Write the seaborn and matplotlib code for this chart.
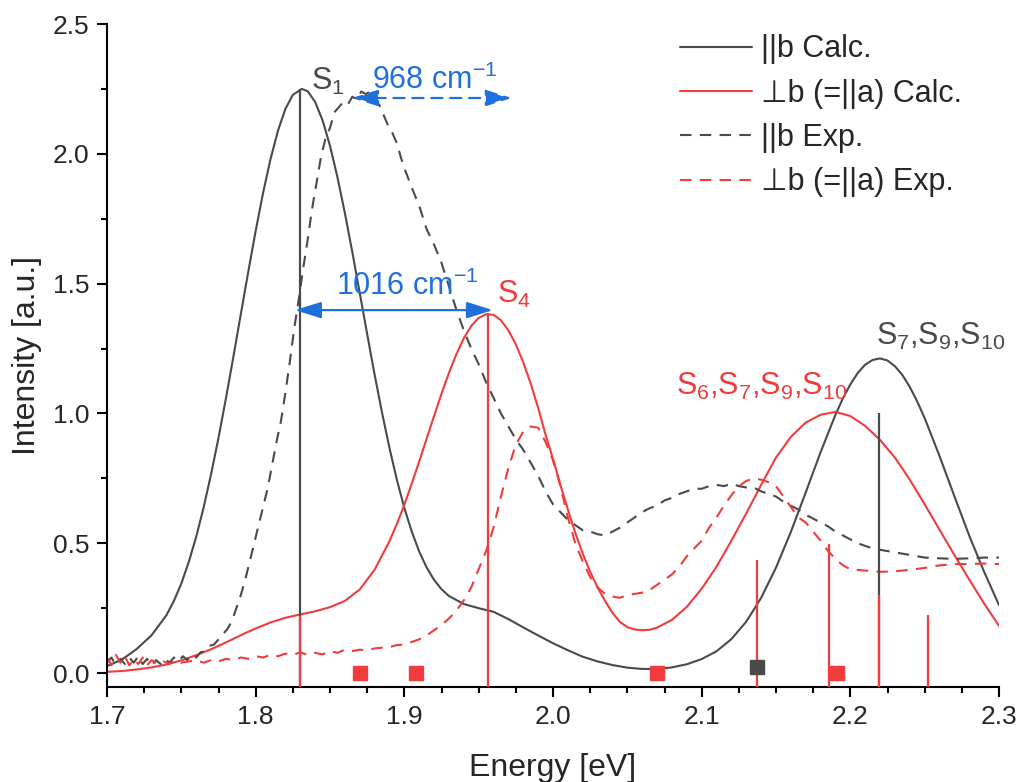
import numpy as np
import pandas as pd
import matplotlib
matplotlib.use("Agg")
import matplotlib.pyplot as plt
from matplotlib.ticker import MultipleLocator, FormatStrFormatter
import seaborn as sns

# ---- calculated spectra (||b and perpendicular-b) ----
b_calc_E = [1.700, 1.710, 1.720, 1.730, 1.740, 1.745, 1.750, 1.755, 1.760, 1.765,
            1.770, 1.775, 1.780, 1.785, 1.790, 1.795, 1.800, 1.805, 1.810, 1.815,
            1.820, 1.825, 1.831, 1.835, 1.840, 1.845, 1.850, 1.855, 1.860, 1.865,
            1.870, 1.875, 1.880, 1.885, 1.890, 1.895, 1.900, 1.905, 1.910, 1.915,
            1.920, 1.925, 1.930, 1.940, 1.950, 1.960, 1.970, 1.980, 1.990, 2.000,
            2.010, 2.020, 2.030, 2.040, 2.050, 2.060, 2.070, 2.080, 2.090, 2.100,
            2.110, 2.120, 2.130, 2.140, 2.150, 2.160, 2.170, 2.180, 2.190, 2.195,
            2.200, 2.205, 2.210, 2.215, 2.220, 2.225, 2.230, 2.235, 2.240, 2.245,
            2.250, 2.260, 2.270, 2.280, 2.290, 2.300]
b_calc_I = [0.027, 0.052, 0.093, 0.146, 0.223, 0.278, 0.345, 0.428, 0.525, 0.638,
            0.766, 0.906, 1.058, 1.218, 1.382, 1.545, 1.703, 1.850, 1.980, 2.089,
            2.173, 2.227, 2.250, 2.241, 2.200, 2.129, 2.031, 1.910, 1.772, 1.622,
            1.464, 1.306, 1.150, 1.003, 0.867, 0.744, 0.636, 0.545, 0.468, 0.407,
            0.359, 0.323, 0.297, 0.266, 0.250, 0.236, 0.208, 0.176, 0.145, 0.115,
            0.088, 0.063, 0.045, 0.031, 0.021, 0.016, 0.016, 0.022, 0.034, 0.054,
            0.084, 0.131, 0.198, 0.290, 0.406, 0.544, 0.696, 0.851, 0.995, 1.058,
            1.112, 1.156, 1.188, 1.206, 1.212, 1.204, 1.182, 1.148, 1.102, 1.046,
            0.982, 0.836, 0.681, 0.529, 0.390, 0.262]

a_calc_E = [1.700, 1.710, 1.720, 1.730, 1.740, 1.750, 1.760, 1.770, 1.780, 1.790,
            1.800, 1.810, 1.820, 1.830, 1.840, 1.850, 1.860, 1.870, 1.880, 1.890,
            1.895, 1.900, 1.905, 1.910, 1.915, 1.920, 1.925, 1.930, 1.935, 1.940,
            1.945, 1.950, 1.955, 1.960, 1.965, 1.970, 1.975, 1.980, 1.985, 1.990,
            1.995, 2.000, 2.005, 2.010, 2.015, 2.020, 2.025, 2.030, 2.035, 2.040,
            2.045, 2.050, 2.055, 2.060, 2.065, 2.070, 2.080, 2.090, 2.100, 2.110,
            2.120, 2.130, 2.140, 2.150, 2.160, 2.170, 2.180, 2.190, 2.200, 2.210,
            2.220, 2.230, 2.240, 2.250, 2.260, 2.270, 2.280, 2.290, 2.300]
a_calc_I = [0.005, 0.008, 0.014, 0.022, 0.033, 0.049, 0.069, 0.092, 0.118, 0.146,
            0.172, 0.195, 0.213, 0.226, 0.238, 0.254, 0.278, 0.322, 0.398, 0.508,
            0.575, 0.648, 0.730, 0.815, 0.903, 0.990, 1.076, 1.156, 1.228, 1.290,
            1.337, 1.368, 1.382, 1.380, 1.359, 1.320, 1.266, 1.197, 1.115, 1.022,
            0.918, 0.825, 0.725, 0.630, 0.540, 0.460, 0.390, 0.330, 0.278, 0.232,
            0.197, 0.177, 0.168, 0.165, 0.167, 0.175, 0.205, 0.255, 0.325, 0.410,
            0.510, 0.615, 0.725, 0.830, 0.910, 0.965, 0.995, 1.006, 0.990, 0.952,
            0.898, 0.830, 0.745, 0.650, 0.552, 0.455, 0.360, 0.268, 0.182]

# ---- measured spectra ----
b_exp_E = [1.700, 1.703, 1.706, 1.709, 1.712, 1.715, 1.718, 1.721, 1.724, 1.727,
           1.730, 1.733, 1.736, 1.739, 1.742, 1.745, 1.748, 1.751, 1.754, 1.757,
           1.760, 1.763, 1.766, 1.769, 1.772, 1.775, 1.778, 1.781, 1.784, 1.787,
           1.790, 1.793, 1.796, 1.799, 1.802, 1.805, 1.808, 1.811, 1.814, 1.817,
           1.820, 1.823, 1.826, 1.829, 1.832, 1.835, 1.838, 1.841, 1.844, 1.847,
           1.850, 1.853, 1.856, 1.859, 1.862, 1.865, 1.868, 1.871, 1.874, 1.877,
           1.880, 1.883, 1.886, 1.889, 1.892, 1.895, 1.898, 1.901, 1.905, 1.910,
           1.915, 1.920, 1.925, 1.930, 1.935, 1.940, 1.945, 1.950, 1.955, 1.960,
           1.965, 1.970, 1.975, 1.980, 1.985, 1.990, 1.995, 2.000, 2.005, 2.010,
           2.015, 2.020, 2.025, 2.030, 2.035, 2.040, 2.045, 2.050, 2.055, 2.060,
           2.065, 2.070, 2.075, 2.080, 2.085, 2.090, 2.095, 2.100, 2.105, 2.110,
           2.115, 2.120, 2.125, 2.130, 2.135, 2.140, 2.145, 2.150, 2.155, 2.160,
           2.165, 2.170, 2.175, 2.180, 2.185, 2.190, 2.195, 2.200, 2.205, 2.210,
           2.215, 2.220, 2.230, 2.240, 2.250, 2.260, 2.270, 2.280, 2.290, 2.300]
b_exp_I = [0.04, 0.06, 0.03, 0.055, 0.035, 0.06, 0.04, 0.065, 0.035, 0.055,
           0.03, 0.05, 0.035, 0.055, 0.04, 0.06, 0.045, 0.065, 0.05, 0.07,
           0.06, 0.08, 0.085, 0.105, 0.11, 0.13, 0.15, 0.17, 0.20, 0.25,
           0.30, 0.36, 0.43, 0.50, 0.57, 0.64, 0.71, 0.80, 0.89, 0.97,
           1.08, 1.20, 1.33, 1.44, 1.56, 1.67, 1.79, 1.89, 1.99, 2.06,
           2.10, 2.16, 2.18, 2.20, 2.19, 2.22, 2.21, 2.24, 2.23, 2.24,
           2.21, 2.19, 2.15, 2.11, 2.08, 2.04, 1.98, 1.93, 1.87, 1.80,
           1.71, 1.65, 1.58, 1.49, 1.40, 1.32, 1.25, 1.19, 1.12, 1.06,
           1.00, 0.95, 0.90, 0.86, 0.81, 0.76, 0.70, 0.65, 0.62, 0.59,
           0.57, 0.55, 0.545, 0.535, 0.53, 0.545, 0.56, 0.58, 0.60, 0.62,
           0.635, 0.645, 0.665, 0.675, 0.69, 0.70, 0.71, 0.71, 0.72, 0.725,
           0.72, 0.73, 0.72, 0.715, 0.715, 0.70, 0.69, 0.68, 0.66, 0.645,
           0.63, 0.61, 0.595, 0.58, 0.565, 0.545, 0.53, 0.515, 0.50, 0.49,
           0.48, 0.475, 0.465, 0.455, 0.445, 0.442, 0.44, 0.442, 0.445, 0.445]

a_exp_E = [1.700, 1.703, 1.706, 1.709, 1.712, 1.715, 1.718, 1.721, 1.724, 1.727,
           1.730, 1.734, 1.738, 1.742, 1.746, 1.750, 1.755, 1.760, 1.765, 1.770,
           1.775, 1.780, 1.785, 1.790, 1.795, 1.800, 1.805, 1.810, 1.815, 1.820,
           1.825, 1.830, 1.835, 1.840, 1.845, 1.850, 1.855, 1.860, 1.865, 1.870,
           1.875, 1.880, 1.885, 1.890, 1.895, 1.900, 1.905, 1.910, 1.915, 1.920,
           1.925, 1.930, 1.935, 1.940, 1.945, 1.950, 1.955, 1.960, 1.965, 1.970,
           1.975, 1.980, 1.985, 1.990, 1.995, 2.000, 2.005, 2.010, 2.015, 2.020,
           2.025, 2.030, 2.035, 2.040, 2.045, 2.050, 2.055, 2.060, 2.065, 2.070,
           2.075, 2.080, 2.085, 2.090, 2.095, 2.100, 2.105, 2.110, 2.115, 2.120,
           2.125, 2.130, 2.135, 2.140, 2.145, 2.150, 2.155, 2.160, 2.165, 2.170,
           2.175, 2.180, 2.185, 2.190, 2.195, 2.200, 2.210, 2.220, 2.230, 2.240,
           2.250, 2.260, 2.270, 2.280, 2.290, 2.300]
a_exp_I = [0.06, 0.03, 0.07, 0.04, 0.065, 0.03, 0.055, 0.035, 0.06, 0.03,
           0.05, 0.035, 0.045, 0.035, 0.05, 0.04, 0.045, 0.05, 0.04, 0.05,
           0.045, 0.055, 0.05, 0.06, 0.055, 0.065, 0.06, 0.07, 0.065, 0.075,
           0.07, 0.08, 0.07, 0.078, 0.072, 0.085, 0.078, 0.09, 0.085, 0.09,
           0.088, 0.095, 0.098, 0.10, 0.108, 0.11, 0.12, 0.13, 0.145, 0.165,
           0.185, 0.21, 0.24, 0.28, 0.33, 0.40, 0.47, 0.56, 0.68, 0.79,
           0.88, 0.93, 0.95, 0.945, 0.89, 0.82, 0.72, 0.60, 0.50, 0.43,
           0.37, 0.33, 0.305, 0.295, 0.29, 0.30, 0.305, 0.31, 0.32, 0.34,
           0.36, 0.38, 0.41, 0.45, 0.48, 0.51, 0.56, 0.60, 0.645, 0.685,
           0.72, 0.74, 0.75, 0.745, 0.735, 0.72, 0.68, 0.64, 0.60, 0.58,
           0.545, 0.51, 0.47, 0.44, 0.415, 0.40, 0.395, 0.39, 0.392, 0.398,
           0.405, 0.415, 0.42, 0.42, 0.422, 0.42]

# ---- transition sticks ----
b_stick_E = [1.830, 2.219]
b_stick_I = [2.25, 1.00]
a_stick_E = [1.830, 1.956, 2.137, 2.1855, 2.219, 2.252]
a_stick_I = [0.22, 1.385, 0.435, 0.497, 0.30, 0.223]

# ---- square markers ----
a_sq_E = [1.870, 1.908, 2.070, 2.191]
a_sq_I = [0.0, 0.0, 0.0, 0.0]
b_sq_E = [2.137]
b_sq_I = [0.025]

legend_labels = ["||b Calc.", "\u22a5b (=||a) Calc.", "||b Exp.", "\u22a5b (=||a) Exp."]

GREY = "#4a4a4a"
RED = "#f03c3c"
BLUE = "#1f6fdc"

sns.set_style("ticks")
plt.rcParams["font.family"] = ["Liberation Sans", "DejaVu Sans"]
plt.rcParams["mathtext.fontset"] = "custom"
plt.rcParams["mathtext.rm"] = "Liberation Sans"
plt.rcParams["mathtext.it"] = "Liberation Sans:italic"

fig = plt.figure(figsize=(10.2, 7.82), dpi=100)
ax = fig.add_axes([107 / 1020, 1 - 686.6 / 782, 892 / 1020, (686.6 - 24) / 782])

YMIN = -0.052
lw = 1.5
dash = (0, (5.5, 4))

sns.lineplot(x=b_calc_E, y=b_calc_I, ax=ax, color=GREY, lw=lw, label=legend_labels[0], sort=False)
sns.lineplot(x=a_calc_E, y=a_calc_I, ax=ax, color=RED, lw=lw, label=legend_labels[1], sort=False)
sns.lineplot(x=b_exp_E, y=b_exp_I, ax=ax, color=GREY, lw=lw, linestyle=dash, label=legend_labels[2], sort=False)
sns.lineplot(x=a_exp_E, y=a_exp_I, ax=ax, color=RED, lw=lw, linestyle=dash, label=legend_labels[3], sort=False)

ax.vlines(b_stick_E, YMIN, b_stick_I, color=GREY, lw=1.6, zorder=3)
ax.vlines(a_stick_E, YMIN, a_stick_I, color=RED, lw=1.6, zorder=4)

ax.plot(a_sq_E, a_sq_I, ls="none", marker="s", ms=9.5, color=RED, zorder=5)
ax.plot(b_sq_E, b_sq_I, ls="none", marker="s", ms=9.5, color=GREY, zorder=5)

# arrows marking the vibronic spacings
head = "<|-|>,head_length=0.8,head_width=0.25"
ax.annotate("", xy=(1.9723, 2.215), xytext=(1.8648, 2.215),
            arrowprops=dict(arrowstyle=head, mutation_scale=20, color=BLUE, lw=1.6,
                            linestyle=(0, (5, 3.5)), shrinkA=0, shrinkB=0), zorder=6)
ax.annotate("", xy=(1.9596, 1.398), xytext=(1.8264, 1.398),
            arrowprops=dict(arrowstyle=head, mutation_scale=20, color=BLUE, lw=1.6,
                            shrinkA=0, shrinkB=0), zorder=6)

fs_ann = 22
ax.text(1.878, 2.25, r"968 cm$^\mathregular{-1}$", color=BLUE, fontsize=fs_ann, va="baseline")
ax.text(1.854, 1.458, r"1016 cm$^\mathregular{-1}$", color=BLUE, fontsize=fs_ann, va="baseline")
ax.text(1.837, 2.246, r"S$_\mathregular{1}$", color=GREY, fontsize=fs_ann, va="baseline")
ax.text(1.962, 1.425, r"S$_\mathregular{4}$", color=RED, fontsize=fs_ann, va="baseline")
ax.text(2.217, 1.264, r"S$_\mathregular{7}$,S$_\mathregular{9}$,S$_\mathregular{10}$",
        color=GREY, fontsize=fs_ann, va="baseline")
ax.text(2.083, 1.071, r"S$_\mathregular{6}$,S$_\mathregular{7}$,S$_\mathregular{9}$,S$_\mathregular{10}$",
        color=RED, fontsize=fs_ann, va="baseline")

ax.set_xlim(1.7, 2.3)
ax.set_ylim(YMIN, 2.5)
ax.xaxis.set_major_locator(MultipleLocator(0.1))
ax.xaxis.set_minor_locator(MultipleLocator(0.025))
ax.yaxis.set_major_locator(MultipleLocator(0.5))
ax.yaxis.set_minor_locator(MultipleLocator(0.25))
ax.xaxis.set_major_formatter(FormatStrFormatter("%.1f"))
ax.yaxis.set_major_formatter(FormatStrFormatter("%.1f"))
ax.tick_params(which="major", direction="out", length=7.5, width=1.5, labelsize=19, color="black")
ax.tick_params(axis="x", which="major", pad=6)
ax.tick_params(axis="y", which="major", pad=5)
ax.tick_params(which="minor", direction="out", length=4, width=1.5, color="black")
for side in ("top", "right"):
    ax.spines[side].set_visible(False)
for side in ("left", "bottom"):
    ax.spines[side].set_linewidth(1.5)
    ax.spines[side].set_color("black")

ax.set_xlabel("Energy [eV]", fontsize=23, labelpad=17)
ax.set_ylabel("Intensity [a.u.]", fontsize=23, labelpad=8)

leg = ax.legend(loc="upper left", bbox_to_anchor=(680 / 1020, 0.956), bbox_transform=fig.transFigure,
                frameon=False, fontsize=22, handlelength=2.36, handletextpad=0.3,
                labelspacing=0.47, borderpad=0, borderaxespad=0)

fig.savefig("out.png", dpi=100)
